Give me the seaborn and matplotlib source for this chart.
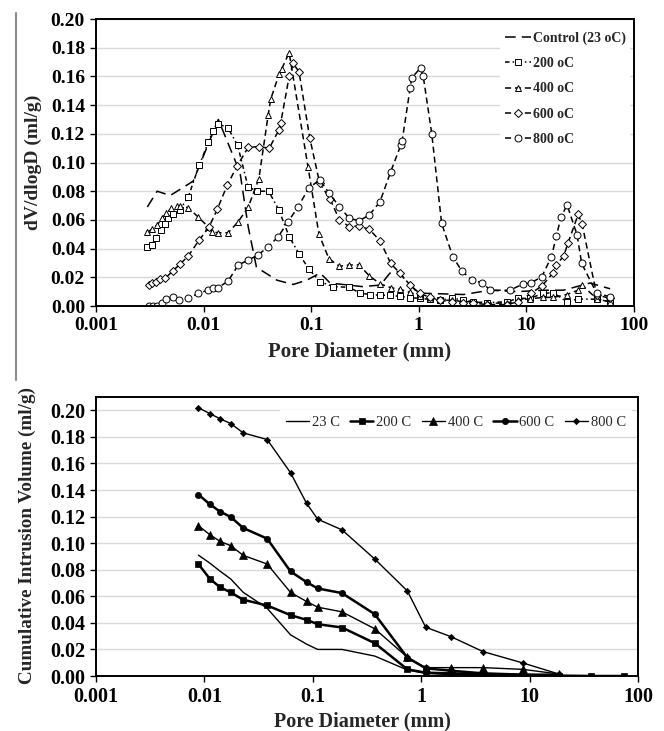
import matplotlib
matplotlib.use("Agg")
import matplotlib.pyplot as plt
from matplotlib.lines import Line2D
from matplotlib.ticker import FixedLocator, FixedFormatter, NullLocator
import seaborn as sns

# ---- top: dV/dlogD (ml/g) vs pore diameter (mm)
ctrl_d = [0.0030, 0.0037, 0.0049, 0.0080, 0.0137, 0.0218, 0.026, 0.031, 0.048, 0.068,
          0.091, 0.121, 0.15, 0.30, 0.44, 0.54, 0.64, 0.83, 0.99, 2.6, 4.6, 8.1, 14.4,
          22, 39, 60]
ctrl_v = [0.069, 0.080, 0.077, 0.087, 0.130, 0.093, 0.055, 0.027, 0.018, 0.015,
          0.018, 0.023, 0.016, 0.0135, 0.0146, 0.023, 0.024, 0.0146, 0.009, 0.008, 0.011,
          0.010, 0.011, 0.011, 0.016, 0.012]

d200 = [0.0030, 0.0033, 0.0036, 0.0040, 0.0044, 0.0047, 0.0052, 0.0060, 0.0072, 0.0091,
        0.0111, 0.0123, 0.0137, 0.0169, 0.0207, 0.0259, 0.0316, 0.0402, 0.050, 0.0627,
        0.0776, 0.0946, 0.1205, 0.160, 0.226, 0.284, 0.352, 0.436, 0.54, 0.668,
        0.83, 1.02, 1.27, 1.57, 2.02, 2.6, 3.2, 4.3, 6.6, 8.4,
        10.7, 14.4, 17.8, 23.7, 30.3, 45, 60]
v200 = [0.041, 0.0425, 0.0476, 0.053, 0.057, 0.061, 0.064, 0.067, 0.076, 0.098,
        0.1145, 0.122, 0.127, 0.124, 0.112, 0.083, 0.080, 0.080, 0.067, 0.048,
        0.036, 0.026, 0.017, 0.0135, 0.013, 0.009, 0.008, 0.0075, 0.0075, 0.0067,
        0.0058, 0.0053, 0.0046, 0.0042, 0.0053, 0.0042, 0.003, 0.0023, 0.003, 0.0053,
        0.0053, 0.0088, 0.0093, 0.003, 0.0049, 0.0047, 0.003]

d400 = [0.0030, 0.0033, 0.0037, 0.0041, 0.0045, 0.0050, 0.0056, 0.0060, 0.0072, 0.0089,
        0.0110, 0.0119, 0.0137, 0.0169, 0.021, 0.026, 0.0326, 0.0398, 0.042, 0.0505,
        0.053, 0.0624, 0.0934, 0.118, 0.146, 0.183, 0.226, 0.279, 0.347, 0.436,
        0.548, 0.668, 0.83, 1.02, 1.27, 1.57, 2.02, 2.6, 3.2, 4.3,
        6.6, 8.4, 10.7, 14.4, 17.8, 23.7, 30.3, 33, 45, 60]
v400 = [0.0513, 0.0534, 0.0564, 0.061, 0.0646, 0.068, 0.0697, 0.070, 0.0685, 0.062,
        0.0553, 0.0518, 0.051, 0.051, 0.0588, 0.069, 0.0885, 0.133, 0.144, 0.162,
        0.165, 0.1765, 0.097, 0.050, 0.033, 0.0277, 0.0286, 0.0286, 0.021, 0.0155,
        0.0128, 0.0116, 0.0095, 0.007, 0.005, 0.004, 0.004, 0.003, 0.003, 0.002,
        0.002, 0.004, 0.005, 0.006, 0.006, 0.008, 0.011, 0.0146, 0.005, 0.003]

d600 = [0.0031, 0.0033, 0.0036, 0.0039, 0.0044, 0.0052, 0.0060, 0.0072, 0.0091, 0.0112,
        0.0134, 0.0166, 0.0205, 0.026, 0.0326, 0.0408, 0.050, 0.052, 0.0624, 0.068,
        0.077, 0.097, 0.12, 0.15, 0.183, 0.226, 0.279, 0.347, 0.436, 0.548,
        0.668, 0.83, 1.02, 1.27, 1.57, 2.02, 2.6, 3.2, 4.3, 6.6,
        8.4, 11.0, 13.9, 17.6, 19.0, 22.2, 24.3, 30.3, 33, 45, 60]
v600 = [0.0146, 0.0158, 0.017, 0.0186, 0.0193, 0.0246, 0.029, 0.0348, 0.046, 0.0548,
        0.0674, 0.0843, 0.0976, 0.1106, 0.111, 0.110, 0.1226, 0.1273, 0.160, 0.169,
        0.1633, 0.117, 0.0855, 0.0745, 0.060, 0.0553, 0.0557, 0.0534, 0.0455, 0.0297,
        0.0228, 0.0146, 0.0088, 0.006, 0.004, 0.003, 0.002, 0.002, 0.001, 0.001,
        0.003, 0.0088, 0.0139, 0.0228, 0.0286, 0.0348, 0.0436, 0.0639, 0.0569, 0.0077, 0.0053]

d800 = [0.0031, 0.0034, 0.0037, 0.0041, 0.0045, 0.0052, 0.0059, 0.0072, 0.0089, 0.011,
        0.0121, 0.0137, 0.0169, 0.021, 0.026, 0.032, 0.0398, 0.0494, 0.061, 0.0757,
        0.0946, 0.12, 0.147, 0.183, 0.226, 0.279, 0.347, 0.436, 0.548, 0.68,
        0.70, 0.83, 0.86, 1.04, 1.1, 1.32, 1.63, 2.07, 2.5, 3.1,
        3.9, 4.6, 7.0, 9.2, 11.1, 13.9, 17.1, 19.0, 21.0, 23.9,
        29.6, 32.6, 45, 60]
v800 = [0.0002, 0.0002, 0.0002, 0.0019, 0.0049, 0.0065, 0.0042, 0.0053, 0.0088, 0.0111,
        0.0123, 0.0128, 0.0174, 0.0286, 0.032, 0.0355, 0.0413, 0.0483, 0.0588, 0.0692,
        0.082, 0.088, 0.0785, 0.0692, 0.0611, 0.0594, 0.0634, 0.0727, 0.0936, 0.112,
        0.115, 0.1517, 0.159, 0.166, 0.160, 0.120, 0.0576, 0.0344, 0.0246, 0.0181,
        0.0162, 0.011, 0.011, 0.0151, 0.0162, 0.0204, 0.0344, 0.0488, 0.0622, 0.0704,
        0.0495, 0.0297, 0.0088, 0.0065]

# ---- bottom: cumulative intrusion volume (ml/g)
cum_d = [0.0088, 0.0112, 0.0139, 0.0175, 0.0228, 0.0379, 0.0623, 0.0875, 0.111, 0.186,
         0.373, 0.746, 1.10, 1.87, 3.71, 8.67, 18.6, 37.0, 73.5]
c23 = [0.091, 0.085, 0.079, 0.073, 0.063, 0.051, 0.031, 0.024, 0.020, 0.020,
       0.015, 0.0045, 0.002, 0.001, 0.001, 0.0005, 0.0]
c200 = [0.0843, 0.0732, 0.0669, 0.0629, 0.0574, 0.0531, 0.0458, 0.0423, 0.039, 0.0365,
        0.0247, 0.005, 0.0025, 0.002, 0.0013, 0.0008, 0.0003, 0.0, 0.0]
c400 = [0.1132, 0.1064, 0.1014, 0.0981, 0.0908, 0.0843, 0.0629, 0.0561, 0.0518, 0.0483,
        0.0355, 0.0141, 0.0063, 0.0063, 0.0063, 0.005, 0.0015]
c600 = [0.1366, 0.1293, 0.1238, 0.1197, 0.1114, 0.1034, 0.0787, 0.0707, 0.0659, 0.0624,
        0.0465, 0.0138, 0.0058, 0.004, 0.002, 0.001, 0.001]
c800 = [0.202, 0.1975, 0.1937, 0.190, 0.183, 0.178, 0.153, 0.130, 0.118, 0.110,
        0.088, 0.064, 0.0367, 0.0297, 0.0184, 0.0098, 0.0015]

xticks = [0.001, 0.01, 0.1, 1, 10, 100]
xtick_labels = ['0.001', '0.01', '0.1', '1', '10', '100']

sns.set_style("white")
plt.rcParams['font.family'] = ['Liberation Serif', 'DejaVu Serif']
plt.rcParams['font.weight'] = 'bold'

fig = plt.figure(figsize=(6.64, 7.31), dpi=100)
ax1 = fig.add_axes([96/664, 1 - 306/731, 538/664, 287/731])
ax2 = fig.add_axes([96/664, 1 - 676/731, 542/664, 279/731])

# top panel: open markers, dashed lines
dash = (0, (4, 2.5))
top_series = [
    (ctrl_d, ctrl_v, 'Control (23 oC)', None, (0, (7, 4))),
    (d200, v200, '200 oC', 's', (0, (3, 2, 1, 2))),
    (d400, v400, '400 oC', '^', dash),
    (d600, v600, '600 oC', 'D', dash),
    (d800, v800, '800 oC', 'o', dash),
]
for d, v, lab, mk, ls in top_series:
    sns.lineplot(x=d, y=v, ax=ax1, color='black', linewidth=1.1, linestyle=ls,
                 marker=mk, markersize=3.6 if mk == 'D' else 5.0, mfc='white',
                 mec='black', mew=0.7, estimator=None, sort=False, label=lab)

# bottom panel: filled markers, solid lines
bot_series = [
    (cum_d[:len(c23)], c23, '23 C', None, 1.0, 0),
    (cum_d, c200, '200 C', 's', 1.8, 5),
    (cum_d[:len(c400)], c400, '400 C', '^', 1.0, 5.5),
    (cum_d[:len(c600)], c600, '600 C', 'o', 1.8, 4.5),
    (cum_d[:len(c800)], c800, '800 C', 'D', 1.0, 3.2),
]
for d, v, lab, mk, lw, ms in bot_series:
    sns.lineplot(x=d, y=v, ax=ax2, color='black', linewidth=lw, marker=mk,
                 markersize=ms, mfc='black', mec='black', mew=0.5,
                 estimator=None, sort=False, label=lab)

for ax, ymax, fs in [(ax1, 0.20, 14), (ax2, 0.21, 14.5)]:
    ax.set_xscale('log')
    ax.set_xlim(0.001, 100)
    ax.set_ylim(0, ymax)
    ax.xaxis.set_major_locator(FixedLocator(xticks))
    ax.xaxis.set_major_formatter(FixedFormatter(xtick_labels))
    ax.xaxis.set_minor_locator(NullLocator())
    ax.set_yticks([i * 0.02 for i in range(11)])
    ax.set_yticklabels([f'{i * 0.02:.2f}' for i in range(11)])
    ax.yaxis.grid(True, color='#d9d9d9', linewidth=1.0)
    ax.xaxis.grid(False)
    ax.set_axisbelow(True)
    for sp in ax.spines.values():
        sp.set_color('black')
        sp.set_linewidth(1.4)
    ax.tick_params(axis='both', which='major', direction='out', length=4, width=1,
                   bottom=True, left=True, colors='black', labelsize=fs, pad=4)

ax1.set_xlabel('Pore Diameter (mm)', fontsize=15, fontweight='bold')
ax1.set_ylabel('dV/dlogD (ml/g)', fontsize=14, fontweight='bold')
ax1.xaxis.set_label_coords(0.489, -0.125)
ax1.yaxis.set_label_coords(-0.10, 0.5)

ax2.set_xlabel('Pore Diameter (mm)', fontsize=14.5, fontweight='bold')
ax2.set_ylabel('Cumulative Intrusion Volume (ml/g)', fontsize=13.8, fontweight='bold')
ax2.xaxis.set_label_coords(0.492, -0.128)
ax2.yaxis.set_label_coords(-0.111, 0.505)

leg1 = ax1.legend(loc='upper right', bbox_to_anchor=(1.006, 0.995), frameon=True,
                  facecolor='white', edgecolor='none', framealpha=1,
                  prop={'family': 'Liberation Serif', 'weight': 'bold', 'size': 10},
                  handlelength=1.9, handletextpad=0.15, labelspacing=0.88,
                  borderpad=0.3, fancybox=False)

leg2 = ax2.legend(loc='center', bbox_to_anchor=(0.664, 0.91), ncol=5, frameon=True,
                  facecolor='white', edgecolor='none', framealpha=1,
                  prop={'family': 'Liberation Serif', 'weight': 'normal', 'size': 10.5},
                  handlelength=1.6, handletextpad=0.2, columnspacing=0.7,
                  borderpad=0.4, fancybox=False)

fig.add_artist(Line2D([16/664, 16/664], [1 - 13/731, 1 - 380/731],
                      color='#8c8c8c', linewidth=1.5))

fig.savefig('out.png', dpi=100)
